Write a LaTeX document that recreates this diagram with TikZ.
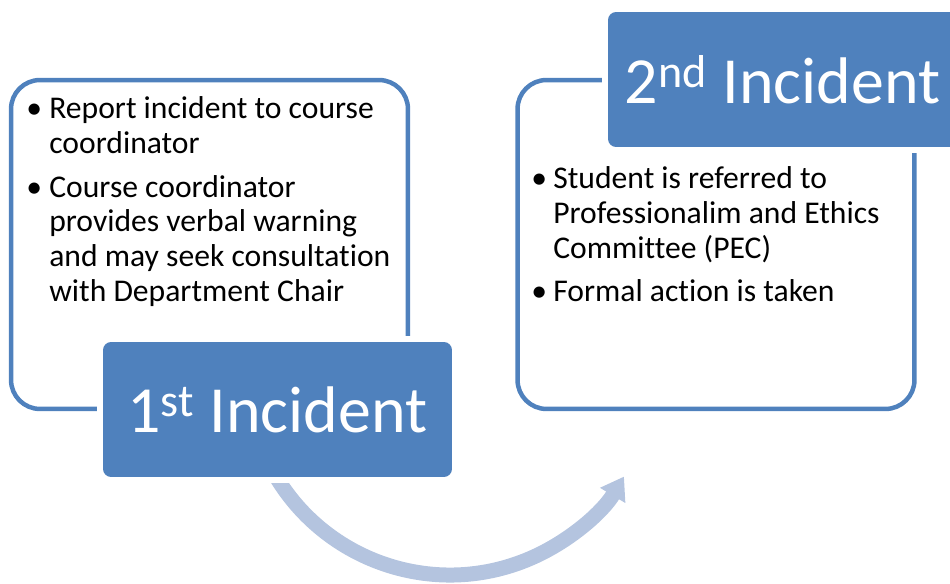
\documentclass[tikz,border=0pt]{standalone}
\usepackage{fontspec}
\setmainfont[Ligatures={NoCommon}]{Carlito}
\usetikzlibrary{arrows.meta}

\definecolor{accent}{HTML}{4F81BD}
\definecolor{flow}{HTML}{B4C4DF}

\tikzstyle{b1} = [draw=accent, line width=2.55pt, rounded corners=0.58cm, minimum width=7.94cm, minimum height=6.58cm, inner sep=0pt]
\tikzstyle{t1} = [fill=accent, rounded corners=0.16cm, minimum width=6.98cm, minimum height=2.7cm, inner sep=0pt, text=white, font=\fontsize{37.5}{44}\selectfont, preaction={draw=white, line width=0.24cm}]
\tikzstyle{l1} = [anchor=base west, inner sep=0pt, font=\fontsize{18}{19.84}\selectfont]
\tikzstyle{a1} = [draw=flow, line width=0.3cm, -{Triangle[width=0.56cm, length=0.44cm]}]

\begin{document}
\begin{tikzpicture}[x=0.02cm, y=0.02cm]
    \clip (0, 0) rectangle (950, 584);
    \coordinate (tail) at (266, 126.2);
    \draw[a1] (tail) arc[start angle=205, end angle=329, radius=203];
    \node[b1] (B1) at (209.5, 339.5) {};
    \node[b1] (B2) at (716, 339.5) {};
    \node[t1] (T1) at (277.5, 174.5) {1\textsuperscript{st} Incident};
    \node[t1] (T2) at (782.5, 504.5) {2\textsuperscript{nd} Incident};
    \node[l1] (L1) at (26, 465) {\begin{tabular}[t]{@{}p{0.46cm}@{}l@{}}
        \textbullet & Report incident to course\\
        & coordinator\\[4.8pt]
        \textbullet & Course coordinator\\
        & provides verbal warning\\
        & and may seek consultation\\
        & with Department Chair
      \end{tabular}};
    \node[l1] (L2) at (531, 395) {\begin{tabular}[t]{@{}p{0.44cm}@{}l@{}}
        \textbullet & Student is referred to\\
        & Professionalim and Ethics\\
        & Committee (PEC)\\[4.8pt]
        \textbullet & Formal action is taken
      \end{tabular}};
  \end{tikzpicture}
\end{document}
